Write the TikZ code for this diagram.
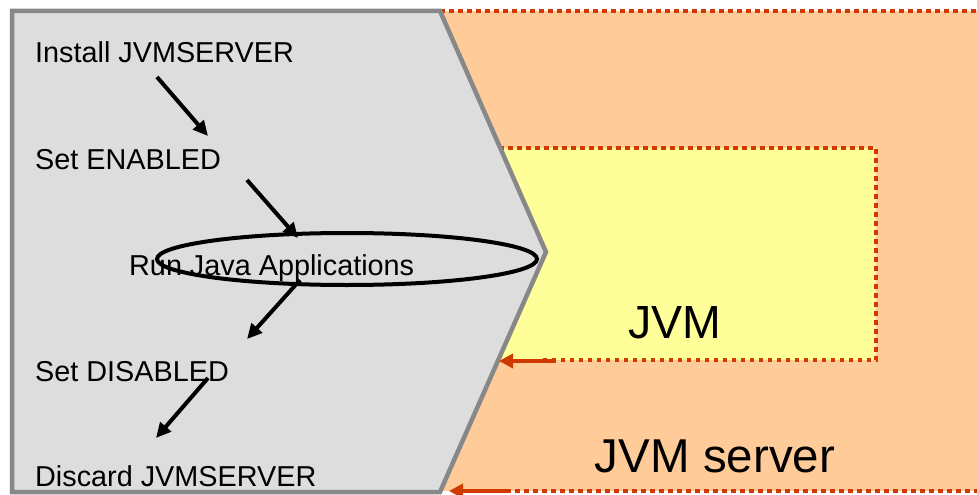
\documentclass[tikz,border=0pt]{standalone}
\usepackage{fontspec}
\setmainfont{Liberation Sans}
\usetikzlibrary{arrows.meta,shapes.geometric}
\definecolor{orfill}{HTML}{FFCC99}
\definecolor{yefill}{HTML}{FFFF99}
\definecolor{grfill}{HTML}{DDDDDD}
\definecolor{grline}{HTML}{888888}
\definecolor{reddot}{HTML}{D03A00}
\tikzset{
  dotline/.style={draw=reddot,line width=4pt,dash pattern=on 4.5pt off 4.5pt},
  redarrow/.style={draw=reddot,line width=4pt,-{Triangle[length=14pt,width=14pt]}},
  blackarrow/.style={draw=black,line width=4pt,-{Triangle[length=15pt,width=14pt]}},
  steplabel/.style={anchor=base west,inner sep=0pt,font=\fontsize{28.8pt}{30pt}\selectfont},
}
\begin{document}
\begin{tikzpicture}[x=1pt,y=-1pt]
\useasboundingbox (0,0) rectangle (977,495);
% orange JVM server region
\fill[orfill] (440,11) rectangle (990,491);
\draw[dotline] (440,11) -- (990,11);
\draw[dotline] (470,491) -- (990,491);
% yellow JVM box
\fill[yefill] (490,148) rectangle (876,360);
\draw[dotline] (490,148) -- (876,148) -- (876,360) -- (540,360);
% gray chevron
\filldraw[fill=grfill,draw=grline,line width=4.5pt,line join=miter]
  (12,11) -- (440,11) -- (546,252) -- (440,492) -- (12,492) -- cycle;
% red arrows
\coordinate (ja) at (556,361);
\coordinate (jb) at (499,361);
\coordinate (sa) at (508,491);
\coordinate (sb) at (449,491);
\draw[redarrow] (ja) -- (jb);
\draw[redarrow] (sa) -- (sb);
% big labels
\node[anchor=base,inner sep=0pt,font=\fontsize{46.5pt}{48pt}\selectfont] (jvm) at (675,338) {JVM};
\node[anchor=base,inner sep=0pt,font=\fontsize{47.5pt}{49pt}\selectfont] (jvms) at (715,472) {JVM server};
% step labels
\node[steplabel] (install) at (35,63) {Install JVMSERVER};
\node[steplabel] (enabled) at (35,169) {Set ENABLED};
\node[steplabel] (run) at (129,275) {Run Java Applications};
\node[steplabel] (disabled) at (35,381) {Set DISABLED};
\node[steplabel] (discard) at (35,486) {Discard JVMSERVER};
% ellipse
\node[draw,ellipse,line width=4pt,minimum width=380pt,minimum height=52pt,inner sep=0pt] (ell) at (347,259) {};
% black arrows
\coordinate (a1s) at (157,77);  \coordinate (a1e) at (208,136);
\coordinate (a2s) at (247,180); \coordinate (a2e) at (298,238);
\coordinate (a3s) at (300,280); \coordinate (a3e) at (247,339);
\coordinate (a4s) at (208,378); \coordinate (a4e) at (156,438);
\draw[blackarrow] (a1s) -- (a1e);
\draw[blackarrow] (a2s) -- (a2e);
\draw[blackarrow] (a3s) -- (a3e);
\draw[blackarrow] (a4s) -- (a4e);
\end{tikzpicture}
\end{document}
